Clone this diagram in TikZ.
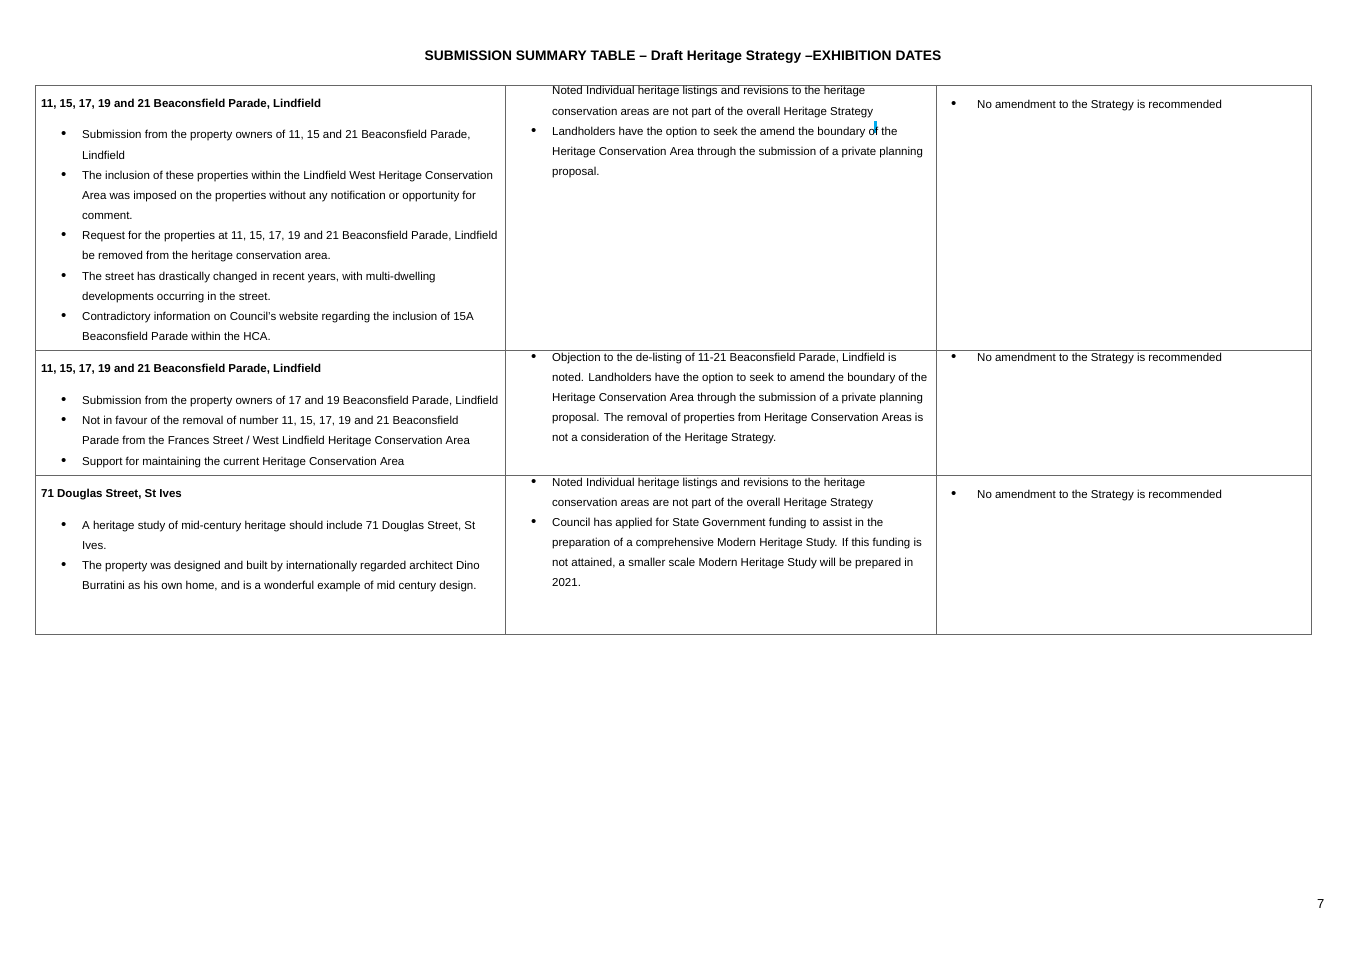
\documentclass[tikz,border=0pt]{standalone}
\usepackage{fontspec}
\setmainfont{Liberation Sans}
\tikzset{
  body/.style={anchor=base west, inner sep=0pt, font=\fontsize{11.5}{13}\selectfont},
  head/.style={anchor=base west, inner sep=0pt, font=\fontsize{11.5}{13}\selectfont\bfseries},
  rule/.style={draw=black!60, line width=0.8pt}
}
% one line of text, and one bullet
\newcommand{\txt}[3]{\node[body] at (#1,#2) {#3};}
\newcommand{\blt}[2]{\node[body, font=\fontsize{15}{13}\selectfont] at (#1,#2) {\textbullet};}
\begin{document}
\begin{tikzpicture}[x=1pt,y=-1pt]
  \useasboundingbox (0,0) rectangle (1366,966);

  \node[anchor=base, inner sep=0pt, font=\fontsize{13.8}{15}\selectfont\bfseries] (title) at (683,60)
    {SUBMISSION SUMMARY TABLE – Draft Heritage Strategy –EXHIBITION DATES};

  % table frame
  \draw[rule] (35,85) rectangle (1311,634);
  \draw[rule] (35,350) -- (1311,350);
  \draw[rule] (35,475) -- (1311,475);
  \draw[rule] (505,85) -- (505,634);
  \draw[rule] (936,85) -- (936,634);

  % row 1
  \node[head] at (41,107) {11, 15, 17, 19 and 21 Beaconsfield Parade, Lindfield};
  \blt{61}{139} \txt{82}{139}{Submission from the property owners of 11, 15 and 21 Beaconsfield Parade,}
  \txt{82}{159}{Lindfield}
  \blt{61}{179} \txt{82}{179}{The inclusion of these properties within the Lindfield West Heritage Conservation}
  \txt{82}{199}{Area was imposed on the properties without any notification or opportunity for}
  \txt{82}{219}{comment.}
  \blt{61}{239} \txt{82}{239}{Request for the properties at 11, 15, 17, 19 and 21 Beaconsfield Parade, Lindfield}
  \txt{82}{259}{be removed from the heritage conservation area.}
  \blt{61}{280} \txt{82}{280}{The street has drastically changed in recent years, with multi-dwelling}
  \txt{82}{300}{developments occurring in the street.}
  \blt{61}{320} \txt{82}{320}{Contradictory information on Council’s website regarding the inclusion of 15A}
  \txt{82}{340}{Beaconsfield Parade within the HCA.}

  \txt{552}{95}{Noted Individual heritage listings and revisions to the heritage}
  \node[body] (strat) at (552,115) {conservation areas are not part of the overall Heritage Strategy};
  \fill[cyan] ([xshift=1pt,yshift=-3pt]strat.south east) rectangle ++(3,12);
  \blt{531}{135} \txt{552}{135}{Landholders have the option to seek the amend the boundary of the}
  \txt{552}{155}{Heritage Conservation Area through the submission of a private planning}
  \txt{552}{175}{proposal.}

  \blt{951}{108} \txt{977}{108}{No amendment to the Strategy is recommended}

  % row 2
  \node[head] at (41,372) {11, 15, 17, 19 and 21 Beaconsfield Parade, Lindfield};
  \blt{61}{404} \txt{82}{404}{Submission from the property owners of 17 and 19 Beaconsfield Parade, Lindfield}
  \blt{61}{424} \txt{82}{424}{Not in favour of the removal of number 11, 15, 17, 19 and 21 Beaconsfield}
  \txt{82}{444}{Parade from the Frances Street / West Lindfield Heritage Conservation Area}
  \blt{61}{465} \txt{82}{465}{Support for maintaining the current Heritage Conservation Area}

  \blt{531}{361} \txt{552}{361}{Objection to the de-listing of 11-21 Beaconsfield Parade, Lindfield is}
  \txt{552}{381}{noted. Landholders have the option to seek to amend the boundary of the}
  \txt{552}{401}{Heritage Conservation Area through the submission of a private planning}
  \txt{552}{421}{proposal. The removal of properties from Heritage Conservation Areas is}
  \txt{552}{441}{not a consideration of the Heritage Strategy.}

  \blt{951}{361} \txt{977}{361}{No amendment to the Strategy is recommended}

  % row 3
  \node[head] at (41,497) {71 Douglas Street, St Ives};
  \blt{61}{529} \txt{82}{529}{A heritage study of mid-century heritage should include 71 Douglas Street, St}
  \txt{82}{549}{Ives.}
  \blt{61}{569} \txt{82}{569}{The property was designed and built by internationally regarded architect Dino}
  \txt{82}{589}{Burratini as his own home, and is a wonderful example of mid century design.}

  \blt{531}{486} \txt{552}{486}{Noted Individual heritage listings and revisions to the heritage}
  \txt{552}{506}{conservation areas are not part of the overall Heritage Strategy}
  \blt{531}{526} \txt{552}{526}{Council has applied for State Government funding to assist in the}
  \txt{552}{546}{preparation of a comprehensive Modern Heritage Study. If this funding is}
  \txt{552}{566}{not attained, a smaller scale Modern Heritage Study will be prepared in}
  \txt{552}{586}{2021.}

  \blt{951}{498} \txt{977}{498}{No amendment to the Strategy is recommended}

  \node[body, font=\fontsize{13}{15}\selectfont] (pageno) at (1317,908) {7};
\end{tikzpicture}
\end{document}
